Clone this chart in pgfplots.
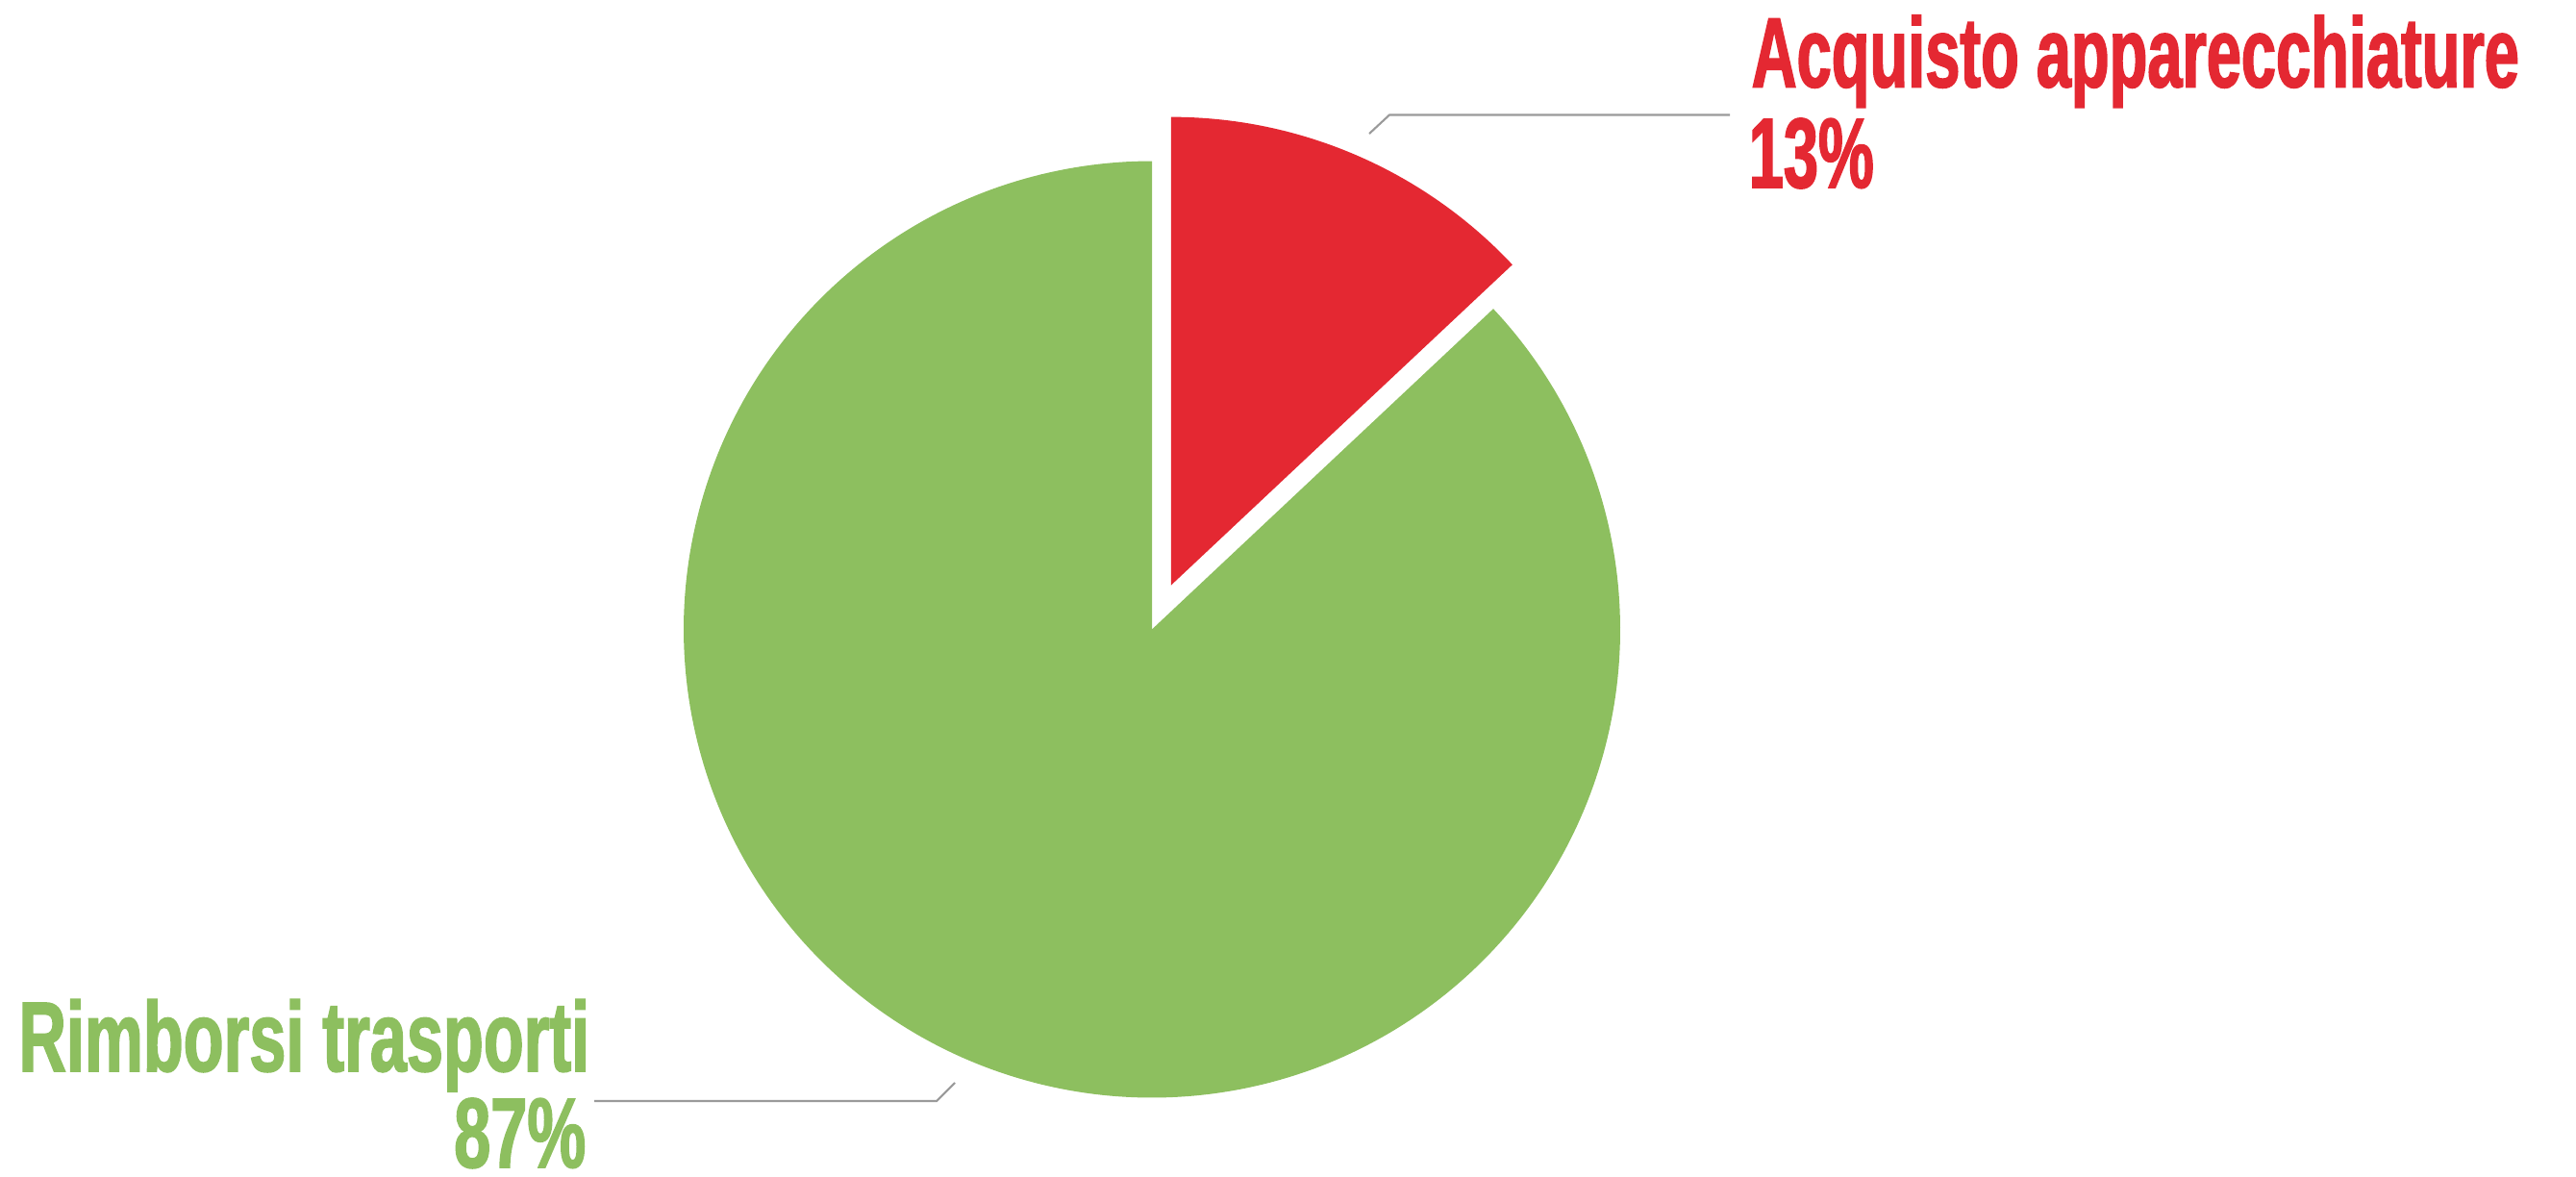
\documentclass[border=0pt]{standalone}
\usepackage{pgfplots}
\pgfplotsset{compat=1.18}
\usepackage{fontspec}
\setmainfont{Liberation Sans}
\newfontfamily\redfont{Liberation Sans}[FakeStretch=0.629, FakeBold=1.5]
\newfontfamily\greenfont{Liberation Sans}[FakeStretch=0.663, FakeBold=1.5]
\definecolor{pgreen}{HTML}{8DBF5F}
\definecolor{pred}{HTML}{E42832}
\definecolor{lead}{HTML}{9A9A9A}
% data (percent)
\def\pRed{13}
\def\pGreen{87}
\def\cx{1198}
\def\cy{568.5}
\def\rr{487}
\def\expl{50}
\begin{document}
\begin{tikzpicture}
\pgfmathsetmacro{\aEnd}{90-3.6*\pRed}
\pgfmathsetmacro{\aMid}{90-1.8*\pRed}
\pgfmathsetmacro{\ex}{\cx+\expl*cos(\aMid)}
\pgfmathsetmacro{\ey}{\cy+\expl*sin(\aMid)}
\pgfmathsetmacro{\gEnd}{90+3.6*\pGreen}
\begin{axis}[
  width=26.79cm, height=12.23cm, scale only axis,
  xmin=0, xmax=2679, ymin=0, ymax=1223,
  hide axis, clip=false, enlargelimits=false,
]
\path (axis cs:0,0) rectangle (axis cs:2679,1223);
% green slice (87%)
\addplot[fill=pgreen, draw=none, domain=90:\gEnd, samples=300, variable=\t]
  ({\cx+\rr*cos(\t)}, {\cy+\rr*sin(\t)}) -- (axis cs:\cx,\cy) -- cycle;
% red slice (13%), exploded
\addplot[fill=pred, draw=none, domain=\aEnd:90, samples=100, variable=\t]
  ({\ex+\rr*cos(\t)}, {\ey+\rr*sin(\t)}) -- (axis cs:\ex,\ey) -- cycle;
% leader lines
\addplot[lead, line width=0.6pt] coordinates {(1424,1084) (1445,1103.5) (1799,1103.5)};
\addplot[lead, line width=0.6pt] coordinates {(618,78) (974,78) (993,97)};
% labels
\node[anchor=base west, inner sep=0, text=pred, font=\redfont\bfseries\fontsize{29.4}{30}\selectfont]
  at (axis cs:1821,1132.5) {Acquisto apparecchiature};
\node[anchor=base west, inner sep=0, text=pred, font=\redfont\bfseries\fontsize{29.4}{30}\selectfont]
  at (axis cs:1818,1028) {13\%};
\node[anchor=base east, inner sep=0, text=pgreen, font=\greenfont\bfseries\fontsize{29.4}{30}\selectfont]
  at (axis cs:614,109) {Rimborsi trasporti};
\node[anchor=base east, inner sep=0, text=pgreen, font=\greenfont\bfseries\fontsize{29.4}{30}\selectfont]
  at (axis cs:610,9) {87\%};
\end{axis}
\end{tikzpicture}
\end{document}
